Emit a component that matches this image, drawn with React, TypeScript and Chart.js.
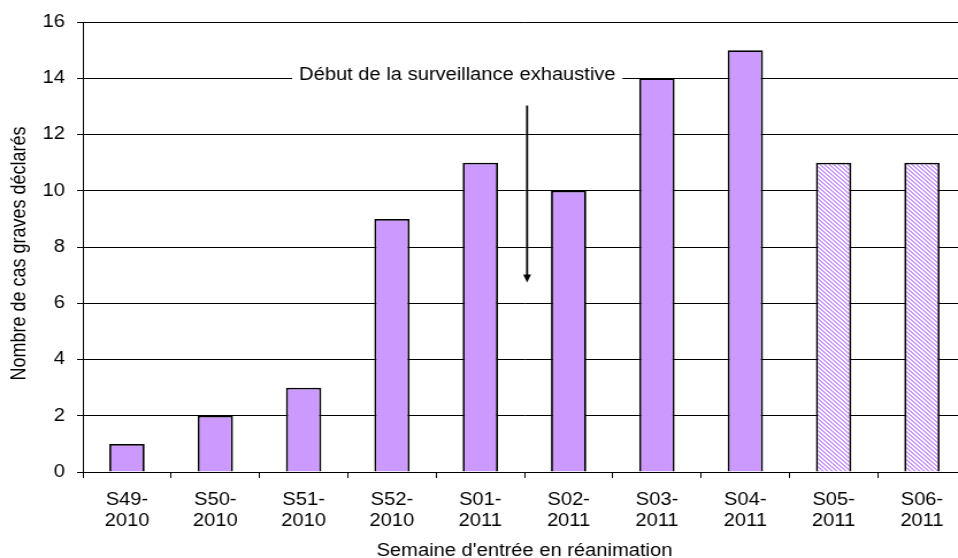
import React, { useEffect, useRef } from "react";
import { Chart, registerables } from "chart.js";

Chart.register(...registerables);

// Weekly counts of severe cases by week of ICU admission
const categories = [
  "S49-2010",
  "S50-2010",
  "S51-2010",
  "S52-2010",
  "S01-2011",
  "S02-2011",
  "S03-2011",
  "S04-2011",
  "S05-2011",
  "S06-2011",
];
const cases = [1, 2, 3, 9, 11, 10, 14, 15, 11, 11];
// Most recent weeks are still being consolidated (hatched bars)
const provisional = [false, false, false, false, false, false, false, false, true, true];

const yMin = 0;
const yMax = 16;
const yStep = 2;

const xTitle = "Semaine d'entrée en réanimation";
const yTitle = "Nombre de cas graves déclarés";
const noteText = "Début de la surveillance exhaustive";

const FONT = '"Liberation Sans", Arial, Helvetica, sans-serif';
const STRETCH = 1.15;
const CANVAS_W = 845;
const CANVAS_H = 558;

const tickLabels = categories.map((c) => {
  const [week, year] = c.split("-");
  return [week + "-", year];
});

// Crisp diagonal stripes (top-left to bottom-right) on white
function makeHatch(): CanvasPattern | string {
  const size = 4;
  const p = document.createElement("canvas");
  p.width = size;
  p.height = size;
  const c = p.getContext("2d");
  if (!c) return "#CC99FF";
  c.fillStyle = "#ffffff";
  c.fillRect(0, 0, size, size);
  c.fillStyle = "#CC99FF";
  for (let r = 0; r < size; r++) {
    c.fillRect(r % size, r, 1, 1);
    c.fillRect((r + 1) % size, r, 1, 1);
  }
  const pattern = c.createPattern(p, "repeat");
  return pattern || "#CC99FF";
}

const notePlugin = {
  id: "surveillanceNote",
  afterDatasetsDraw(chart: any) {
    const { ctx, scales } = chart;
    const x = scales.x;
    const y = scales.y;
    ctx.save();
    ctx.font = `17.5px ${FONT}`;
    const tx = x.getPixelForValue(3.74);
    const base = y.getPixelForValue(14) + 2;
    const w = ctx.measureText(noteText).width;
    ctx.fillStyle = "#ffffff";
    ctx.fillRect(tx - w / 2 - 6, base - 17, w + 12, 22);
    ctx.fillStyle = "#000000";
    ctx.textAlign = "center";
    ctx.textBaseline = "alphabetic";
    ctx.fillText(noteText, tx, base);

    // Arrow pointing down between S01 and S02
    const ax = x.getPixelForValue(4.53);
    const top = y.getPixelForValue(13.03);
    const tip = y.getPixelForValue(6.74);
    ctx.strokeStyle = "#000000";
    ctx.lineWidth = 1.8;
    ctx.beginPath();
    ctx.moveTo(ax, top);
    ctx.lineTo(ax, tip - 6);
    ctx.stroke();
    ctx.beginPath();
    ctx.moveTo(ax - 3.4, tip - 8);
    ctx.lineTo(ax + 3.4, tip - 8);
    ctx.lineTo(ax, tip);
    ctx.closePath();
    ctx.fill();
    ctx.restore();
  },
  afterDraw(chart: any) {
    const { ctx, chartArea } = chart;
    ctx.save();
    ctx.fillStyle = "#000000";
    ctx.textAlign = "center";
    ctx.textBaseline = "middle";
    ctx.font = `17.5px ${FONT}`;
    ctx.fillText(xTitle, (chartArea.left + chartArea.right) / 2, 551);
    ctx.translate(17.4, 253.5);
    ctx.rotate(-Math.PI / 2);
    ctx.font = `18px ${FONT}`;
    ctx.fillText(yTitle, 0, 0);
    ctx.restore();
  },
};

export default function App() {
  const canvasRef = useRef<HTMLCanvasElement | null>(null);

  useEffect(() => {
    const canvas = canvasRef.current;
    if (!canvas) return;
    const hatch = makeHatch();
    const fills = provisional.map((p) => (p ? hatch : "#CC99FF"));

    const chart = new Chart(canvas, {
      type: "bar",
      data: {
        labels: tickLabels,
        datasets: [
          {
            data: cases,
            backgroundColor: fills as any,
            borderColor: "#000000",
            borderWidth: 1.8,
            barPercentage: 0.4,
            categoryPercentage: 1,
          },
        ],
      },
      options: {
        responsive: false,
        animation: false,
        events: [],
        layout: { padding: { top: 22, right: 4.9, left: 0, bottom: 0 } },
        plugins: {
          legend: { display: false },
          tooltip: { enabled: false },
          title: { display: false },
        },
        scales: {
          x: {
            offset: true,
            grid: {
              display: true,
              offset: true,
              drawOnChartArea: false,
              drawTicks: true,
              tickLength: 6,
              color: "#000000",
              lineWidth: 1,
            },
            border: { display: true, color: "#000000", width: 1 },
            ticks: {
              color: "#000000",
              font: { family: FONT, size: 17.5, lineHeight: 1.2 },
              padding: 11.5,
              maxRotation: 0,
              autoSkip: false,
            },
            afterFit(scale: any) {
              scale.height = 86;
            },
          },
          y: {
            min: yMin,
            max: yMax,
            grid: {
              color: "#000000",
              lineWidth: 1,
              drawTicks: true,
              tickLength: 5,
            },
            border: { display: true, color: "#000000", width: 1 },
            ticks: {
              stepSize: yStep,
              color: "#000000",
              font: { family: FONT, size: 17.5 },
              padding: 10.5,
            },
            afterFit(scale: any) {
              scale.width = 72;
            },
          },
        },
      },
      plugins: [notePlugin],
    });

    return () => chart.destroy();
  }, []);

  return (
    <div
      style={{
        position: "fixed",
        left: 0,
        top: 0,
        width: 958,
        height: 558,
        overflow: "hidden",
        background: "#ffffff",
      }}
    >
      <div
        style={{
          width: CANVAS_W,
          height: CANVAS_H,
          transform: `scaleX(${STRETCH})`,
          transformOrigin: "0 0",
        }}
      >
        <canvas
          ref={canvasRef}
          width={CANVAS_W}
          height={CANVAS_H}
          style={{ display: "block", width: CANVAS_W, height: CANVAS_H }}
        />
      </div>
    </div>
  );
}
